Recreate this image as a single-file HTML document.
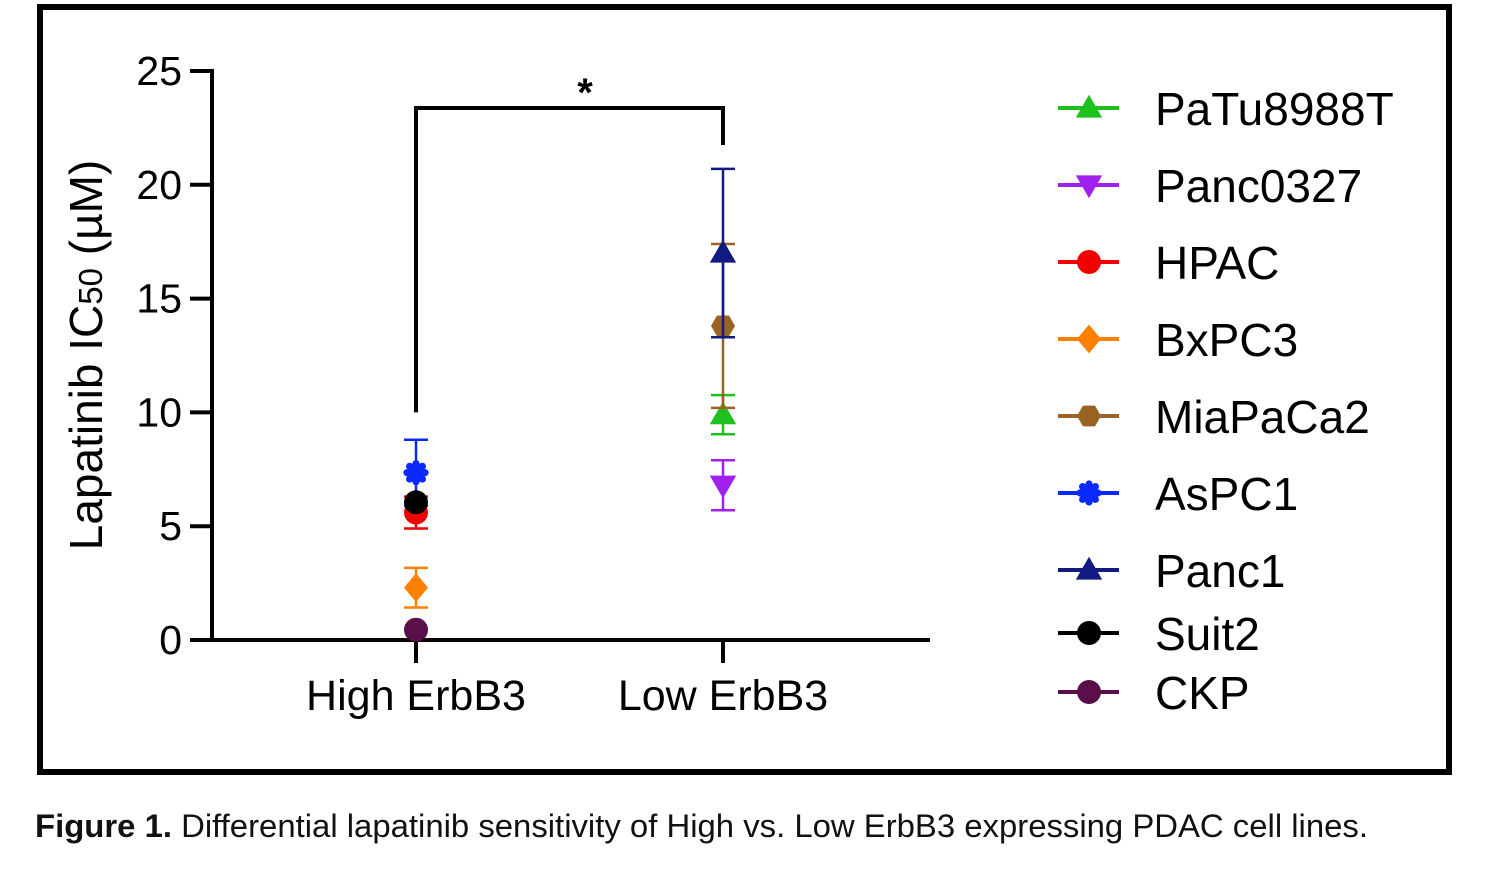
<!DOCTYPE html>
<html><head><meta charset="utf-8"><style>
body{margin:0;background:#fff;width:1489px;height:870px;overflow:hidden}
svg{position:absolute;left:0;top:0}
text{font-family:"Liberation Sans",sans-serif}
</style></head><body>
<svg id="chart" width="1489" height="870">
<rect x="40" y="7" width="1409" height="765" fill="none" stroke="#000" stroke-width="6"/>
<g id="axes"></g><g id="marks"></g><g id="legend"></g>
<text x="35" y="837" font-size="32" fill="#111" textLength="1333" lengthAdjust="spacingAndGlyphs"><tspan font-weight="bold">Figure 1.</tspan> Differential lapatinib sensitivity of High vs. Low ErbB3 expressing PDAC cell lines.</text>
</svg>
<script>
const categories=["High ErbB3","Low ErbB3"];
const seriesNames=["PaTu8988T","Panc0327","HPAC","BxPC3","MiaPaCa2","AsPC1","Panc1","Suit2","CKP"];
const seriesColors=["#1ec01e","#a020f0","#f00000","#ff8000","#9a6324","#0a28ff","#101a80","#000000","#5a0e4a"];
const seriesMarkers=["tri","tridown","circle","diamond","hex","star","tri","circle","circle"];
const seriesCategory=[1,1,0,0,1,0,1,0,0];
const seriesMean=[9.9,6.8,5.6,2.3,13.8,7.35,17.0,6.05,0.45];
const seriesErr=[0.86,1.1,0.7,0.87,3.6,1.45,3.7,0,0];
const yTicks=[0,5,10,15,20,25];
const NS="http://www.w3.org/2000/svg";
const y=v=>640-v*22.76;
const x=i=>416+i*307;
function mk(tag,attrs,parent){const e=document.createElementNS(NS,tag);for(const k in attrs)e.setAttribute(k,attrs[k]);parent.appendChild(e);return e;}
const axes=document.getElementById('axes'),marks=document.getElementById('marks'),legend=document.getElementById('legend');
let e=mk('line',{x1:212,y1:y(25)-2,x2:212,y2:642,stroke:'#000','stroke-width':4},axes);

e=mk('line',{x1:190,y1:640,x2:930,y2:640,stroke:'#000','stroke-width':4},axes);

yTicks.forEach(t=>{
 e=mk('line',{x1:190,y1:y(t),x2:212,y2:y(t),stroke:'#000','stroke-width':4},axes);
 
 e=mk('text',{x:182,y:y(t)+14,'font-size':41,'text-anchor':'end'},axes);e.textContent=t;
 
});
categories.forEach((c,i)=>{
 e=mk('line',{x1:x(i),y1:640,x2:x(i),y2:663,stroke:'#000','stroke-width':4},axes);
 
 e=mk('text',{x:x(i),y:710,'font-size':43,'text-anchor':'middle'},axes);e.textContent=c;
 
});
e=mk('text',{x:0,y:0,'font-size':46,'text-anchor':'middle',transform:'translate(102,355) rotate(-90)'},axes);
e.innerHTML='Lapatinib IC<tspan font-size="33">50</tspan> (µM)';

e=mk('path',{d:`M${x(0)} ${y(10)} V108 H${x(1)} V145`,fill:'none',stroke:'#000','stroke-width':4},axes);

e=mk('text',{x:585,y:106,'font-size':40,'text-anchor':'middle','font-weight':'bold'},axes);e.textContent='*';

function marker(type,cx,cy,col,parent,s){
 let el;
 if(type==='circle')el=mk('circle',{cx,cy,r:s,fill:col},parent);
 else if(type==='tri')el=mk('polygon',{points:`${cx},${cy-s*1.1} ${cx-s*1.1},${cy+s*0.8} ${cx+s*1.1},${cy+s*0.8}`,fill:col},parent);
 else if(type==='tridown')el=mk('polygon',{points:`${cx},${cy+s*1.1} ${cx-s*1.1},${cy-s*0.8} ${cx+s*1.1},${cy-s*0.8}`,fill:col},parent);
 else if(type==='diamond')el=mk('polygon',{points:`${cx},${cy-s*1.2} ${cx+s},${cy} ${cx},${cy+s*1.2} ${cx-s},${cy}`,fill:col},parent);
 else if(type==='hex'){let p=[];for(let k=0;k<6;k++){const a=Math.PI/3*k;p.push((cx+s*Math.cos(a))+','+(cy+s*Math.sin(a)));}el=mk('polygon',{points:p.join(' '),fill:col},parent);}
 else {el=mk('g',{},parent);mk('circle',{cx,cy,r:s*0.75,fill:col},el);for(let k=0;k<8;k++){const a=Math.PI/4*k;mk('circle',{cx:cx+s*0.75*Math.cos(a),cy:cy+s*0.75*Math.sin(a),r:s*0.3,fill:col},el);}}
 return el;
}
seriesNames.forEach((n,i)=>{
 const cx=x(seriesCategory[i]),m=seriesMean[i],er=seriesErr[i],col=seriesColors[i];
 const g=mk('g',{},marks);
 
 
 if(er>0){
  mk('line',{x1:cx,y1:y(m+er),x2:cx,y2:y(m-er),stroke:col,'stroke-width':2.5},g);
  mk('line',{x1:cx-12,y1:y(m+er),x2:cx+12,y2:y(m+er),stroke:col,'stroke-width':2.5},g);
  mk('line',{x1:cx-12,y1:y(m-er),x2:cx+12,y2:y(m-er),stroke:col,'stroke-width':2.5},g);
 }
 marker(seriesMarkers[i],cx,y(m),col,g,12);
 const ly=[108,185,262,339,416,493,570,633,692][i];
 const lg=mk('g',{},legend);
 
 
 mk('line',{x1:1058,y1:ly,x2:1119,y2:ly,stroke:col,'stroke-width':4},lg);
 marker(seriesMarkers[i],1089,ly,col,lg,12);
 const t=mk('text',{x:1155,y:ly+17,'font-size':46},lg);t.textContent=n;
});
</script>
</body></html>
